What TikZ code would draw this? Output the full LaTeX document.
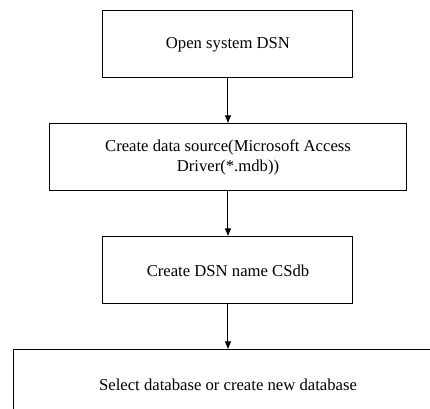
\documentclass[tikz,border=0pt]{standalone}
\usepackage{fontspec}
\setmainfont{Liberation Serif}
\usetikzlibrary{positioning,arrows.meta}

\tikzset{
  stepbox/.style={draw, line width=0.75pt, minimum height=50.25pt, align=center,
    inner sep=2pt, font=\fontsize{12.5}{15}\selectfont},
  flow/.style={-{Latex[length=6pt,width=5pt]}, line width=0.75pt}
}

\begin{document}
\begin{tikzpicture}[x=0.75pt,y=-0.75pt,node distance=33.75pt]
	\clip (0,0) rectangle (430,409);
	\node[stepbox, minimum width=187.5pt] (open) at (228,44.5) {Open system DSN};
	\node[stepbox, minimum width=267.75pt, below=of open] (source) {Create data source(Microsoft Access\\Driver(*.mdb))};
	\node[stepbox, minimum width=187.5pt, below=of source] (name) {Create DSN name CSdb};
	\node[stepbox, minimum width=321pt, minimum height=52.5pt, below=of name] (select) {Select database or create new database};
	\draw[flow] (open) -- (source);
	\draw[flow] (source) -- (name);
	\draw[flow] (name) -- (select);
\end{tikzpicture}
\end{document}
